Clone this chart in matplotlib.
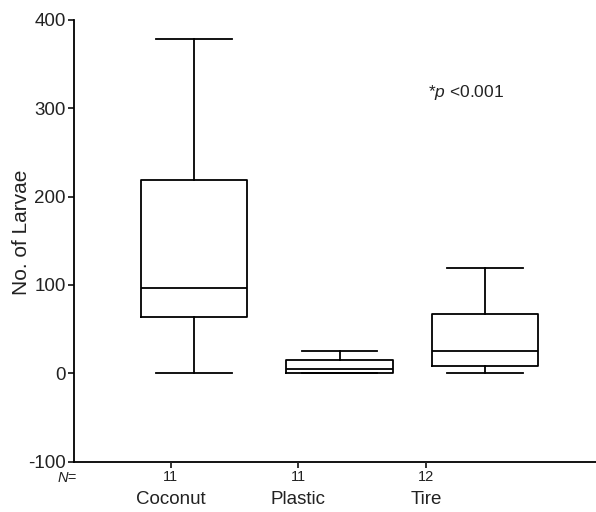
import matplotlib.pyplot as plt
import matplotlib.transforms as mtransforms

plt.rcParams['font.family'] = ['Liberation Sans', 'DejaVu Sans']
plt.rcParams['axes.unicode_minus'] = False
plt.rcParams['mathtext.fontset'] = 'custom'
plt.rcParams['mathtext.it'] = 'Liberation Sans:italic'
plt.rcParams['mathtext.rm'] = 'Liberation Sans'

# box stats (whiskers = min/max)
groups = ["Coconut", "Plastic", "Tire"]
n_vals = [11, 11, 12]
mins = [0, 0, 0]
q1s = [64, 0.5, 8.6]
medians = [96, 5, 25.6]
q3s = [219, 15.4, 66.8]
maxs = [379, 25.6, 119.6]

stats = []
for i, g in enumerate(groups):
    stats.append(dict(label=g, whislo=mins[i], q1=q1s[i], med=medians[i],
                      q3=q3s[i], whishi=maxs[i], fliers=[]))

fig = plt.figure(figsize=(5.96, 5.12), dpi=100)
ax = fig.add_axes([74 / 596, 50.4 / 512, 522 / 596, 441.6 / 512])

lw = 1.3
ax.bxp(stats, positions=[1, 2, 3], widths=0.735, capwidths=0.52,
       showfliers=False,
       boxprops=dict(color='black', linewidth=lw),
       medianprops=dict(color='black', linewidth=lw),
       whiskerprops=dict(color='black', linewidth=lw),
       capprops=dict(color='black', linewidth=lw))

ax.set_xlim(0.175, 3.763)
ax.set_ylim(-100, 400)
ax.set_yticks([-100, 0, 100, 200, 300, 400])
ax.tick_params(axis='y', labelsize=13.5, length=4, width=lw, direction='out',
               colors='#222222', pad=2)
ax.set_ylabel("No. of Larvae", fontsize=15, color='#222222')
ax.yaxis.set_label_coords(-0.083, 0.52)
ax.set_xticks([])
for s in ['top', 'right']:
    ax.spines[s].set_visible(False)
for s in ['left', 'bottom']:
    ax.spines[s].set_linewidth(lw)

# N labels and group names sit on their own spacing
ax2 = ax.twiny()
ax2.set_xlim(0.2445, 4.328)
ax2.xaxis.set_ticks_position('bottom')
ax2.xaxis.set_label_position('bottom')
ax2.set_xticks([1, 2, 3])
ax2.set_xticklabels([str(n) for n in n_vals])
ax2.tick_params(axis='x', labelsize=10.5, length=4, width=lw, pad=2,
                colors='#222222')
for s in ax2.spines.values():
    s.set_visible(False)

trans = mtransforms.blended_transform_factory(ax2.transData, fig.transFigure)
for i, g in enumerate(groups):
    ax2.text(i + 1, 1 - 500 / 512, g, transform=trans, ha='center',
             va='center', fontsize=13.5, color='#222222')
fig.text(67 / 596, 1 - 478 / 512, "N=", style='italic', ha='center',
         va='center', fontsize=10.5, color='#222222')

ax.text(428 / 596, 1 - 93 / 512, r"*$\it{p}$ <0.001", transform=fig.transFigure,
        fontsize=12.5, color='#222222', va='center')

fig.savefig("out.png", dpi=100)
